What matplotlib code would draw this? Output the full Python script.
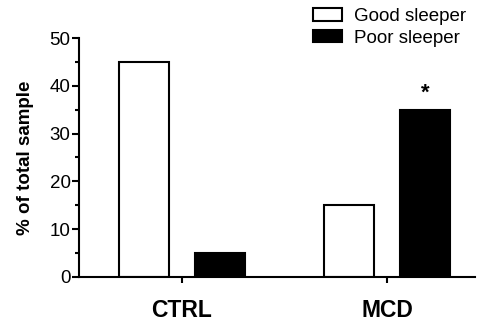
import numpy as np
import matplotlib
matplotlib.use('Agg')
import matplotlib.pyplot as plt

plt.rcParams['font.family'] = ['Liberation Sans', 'DejaVu Sans']

groups = ['CTRL', 'MCD']
good = [45, 15]
poor = [5, 35]
yticks = [0, 10, 20, 30, 40, 50]

fig = plt.figure(figsize=(4.79, 3.25), dpi=100)
ax = fig.add_axes([0.165, 0.148, 0.827, 0.735])

x = np.arange(len(groups))
w = 0.244
off = 0.185
ax.bar(x - off, good, w, color='white', edgecolor='black', linewidth=1.5, label='Good sleeper')
ax.bar(x + off, poor, w, color='black', edgecolor='black', linewidth=1.5, label='Poor sleeper')

# significance star
ax.text(x[1] + off, poor[1] + 1.2, '*', ha='center', va='bottom', fontsize=16, fontweight='bold')

ax.set_xlim(-0.502, 1.43)
ax.set_ylim(0, 50)
ax.set_yticks(yticks)
ax.set_yticks(np.arange(5, 50, 10), minor=True)
ax.set_xticks(x)
ax.set_xticklabels(groups, fontsize=16.5, fontweight='bold')
ax.tick_params(axis='x', length=4, width=1.5, pad=12)
ax.tick_params(axis='y', which='major', length=5, width=1.5, labelsize=13.5, pad=1)
ax.tick_params(axis='y', which='minor', length=3, width=1.5)
ax.set_ylabel('% of total sample', fontsize=13.5, fontweight='bold', labelpad=11)

for s in ['top', 'right']:
    ax.spines[s].set_visible(False)
for s in ['left', 'bottom']:
    ax.spines[s].set_linewidth(1.5)

leg = fig.legend(loc='upper left', bbox_to_anchor=(313 / 479, 1 - 8 / 325), frameon=False, fontsize=13.5,
                 handlelength=1.55, handleheight=0.65, labelspacing=0.25, handletextpad=0.65,
                 borderpad=0, borderaxespad=0)

fig.savefig('out.png', dpi=100)
